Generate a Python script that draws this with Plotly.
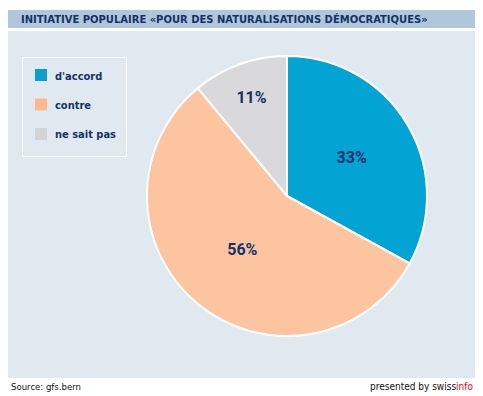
import plotly.graph_objects as go

categories = ["d'accord", "contre", "ne sait pas"]
values = [33, 56, 11]
colors = ["#03a3d3", "#fdc4a0", "#d9d9db"]
legend_colors = ["#0aa0c9", "#fdb98c", "#d3d3d5"]

title_text = "INITIATIVE POPULAIRE «POUR DES NATURALISATIONS DÉMOCRATIQUES»"
source_text = "Source: gfs.bern"

W, H = 483, 396
NAVY = "#14326a"

def px(x):
    return x / W

def py(y):
    return 1 - y / H

fig = go.Figure()
fig.add_trace(go.Pie(
    labels=categories,
    values=values,
    sort=False,
    direction="clockwise",
    rotation=0,
    marker=dict(colors=colors, line=dict(color="white", width=2)),
    texttemplate="%{percent:.0%}",
    textposition="inside",
    insidetextorientation="horizontal",
    textfont=dict(family="Roboto", size=16, color=NAVY, weight="bold"),
    domain=dict(x=[px(147), px(427)], y=[py(336), py(56)]),
    showlegend=False,
    hoverinfo="label+percent",
))

shapes = [
    dict(type="rect", xref="paper", yref="paper", x0=px(8), x1=px(475), y0=py(10), y1=py(28),
         fillcolor="#b2c6da", line=dict(width=0), layer="below"),
    dict(type="rect", xref="paper", yref="paper", x0=px(8), x1=px(475), y0=py(31), y1=py(378),
         fillcolor="#e1e9f0", line=dict(width=0), layer="below"),
    dict(type="rect", xref="paper", yref="paper", x0=px(22.5), x1=px(126.5), y0=py(57.5), y1=py(156.5),
         fillcolor="rgba(0,0,0,0)", line=dict(color="white", width=1), layer="below"),
]

annotations = [
    dict(text="<b>" + title_text + "</b>", x=px(19), y=py(19.5), xref="paper", yref="paper",
         xanchor="left", yanchor="middle", showarrow=False,
         font=dict(family="DejaVu Sans Condensed", size=11.1, color=NAVY)),
    dict(text=source_text, x=px(9), y=py(386), xref="paper", yref="paper",
         xanchor="left", yanchor="middle", showarrow=False,
         font=dict(family="DejaVu Sans Condensed", size=9.5, color="#111111")),
    dict(text="presented by swiss<span style='color:#e3001b'>info</span>", x=px(475), y=py(386),
         xref="paper", yref="paper", xanchor="right", yanchor="middle", showarrow=False,
         font=dict(family="DejaVu Sans Condensed", size=10, color="#111111")),
]

# legend (built from the categories and colours)
for i, (cat, col) in enumerate(zip(categories, legend_colors)):
    yc = 75 + i * 29.5
    shapes.append(dict(type="rect", xref="paper", yref="paper",
                       x0=px(35), x1=px(47), y0=py(yc + 6), y1=py(yc - 6),
                       fillcolor=col, line=dict(width=0)))
    annotations.append(dict(text="<b>" + cat + "</b>", x=px(53), y=py(yc + 1), xref="paper", yref="paper",
                            xanchor="left", yanchor="middle", showarrow=False,
                            font=dict(family="DejaVu Sans Condensed", size=11, color=NAVY)))

fig.update_layout(
    width=W, height=H,
    margin=dict(l=0, r=0, t=0, b=0),
    paper_bgcolor="white",
    plot_bgcolor="white",
    shapes=shapes,
    annotations=annotations,
)

fig.write_html("out.html", config={"displayModeBar": False},
               post_script="document.body.style.margin='0';document.body.style.overflow='hidden';")
